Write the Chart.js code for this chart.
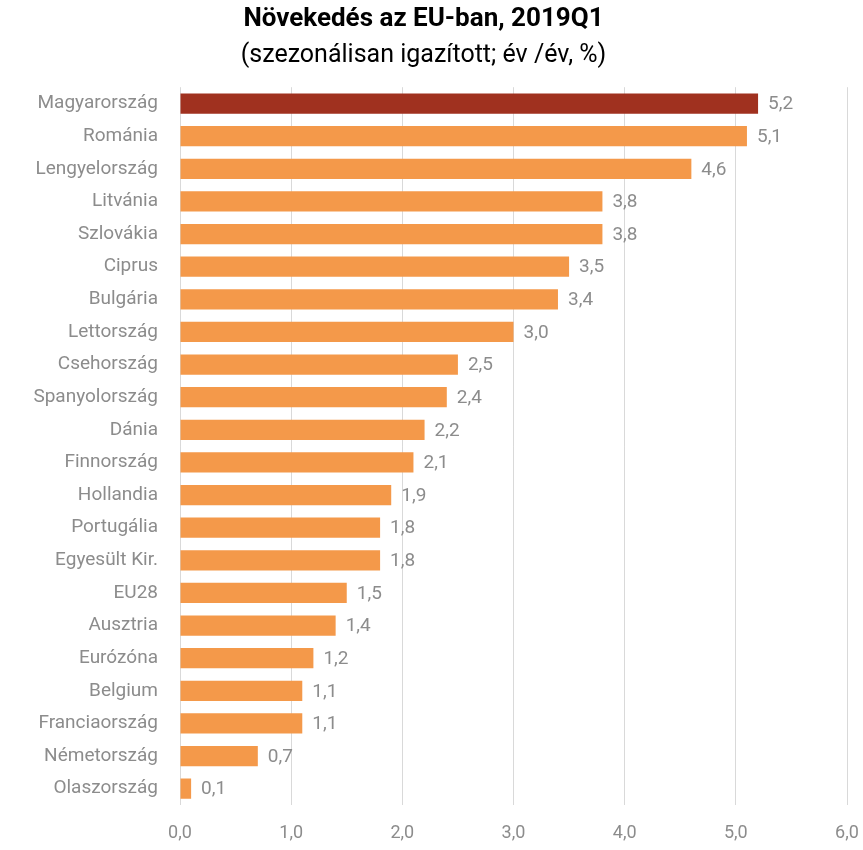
<!DOCTYPE html>
<html>
<head>
<meta charset="utf-8">
<script src="https://cdn.jsdelivr.net/npm/chart.js@4/dist/chart.umd.min.js"></script>
<style>
  html, body { margin: 0; padding: 0; background: #fff; }
</style>
</head>
<body>
<canvas id="growthChart" width="863" height="850"></canvas>
<script>
const countries = [
  "Magyarország", "Románia", "Lengyelország", "Litvánia", "Szlovákia", "Ciprus",
  "Bulgária", "Lettország", "Csehország", "Spanyolország", "Dánia", "Finnország",
  "Hollandia", "Portugália", "Egyesült Kir.", "EU28", "Ausztria", "Eurózóna",
  "Belgium", "Franciaország", "Németország", "Olaszország"
];
const growth = [5.2, 5.1, 4.6, 3.8, 3.8, 3.5, 3.4, 3.0, 2.5, 2.4, 2.2, 2.1, 1.9, 1.8, 1.8, 1.5, 1.4, 1.2, 1.1, 1.1, 0.7, 0.1];
const highlight = "Magyarország";

const fontFamily = "'Roboto', sans-serif";
const fmt = v => v.toFixed(1).replace(".", ",");

const barColors = countries.map(c => c === highlight ? "#A0311F" : "#F4994A");

// value labels to the right of each bar
const valueLabels = {
  id: "valueLabels",
  afterDatasetsDraw(chart) {
    const ctx = chart.ctx;
    const meta = chart.getDatasetMeta(0);
    ctx.save();
    ctx.font = "19px " + fontFamily;
    ctx.fillStyle = "#8c8c8c";
    ctx.textAlign = "left";
    ctx.textBaseline = "middle";
    meta.data.forEach((bar, i) => {
      ctx.fillText(fmt(growth[i]), bar.x + 10, bar.y + 1);
    });
    ctx.restore();
  }
};

const ctx = document.getElementById("growthChart").getContext("2d");
let growthChart = new Chart(ctx, {
  type: "bar",
  data: {
    labels: countries,
    datasets: [
      {
        data: growth,
        backgroundColor: barColors,
        barPercentage: 0.62,
        categoryPercentage: 1.0,
      },
    ],
  },
  options: {
    indexAxis: "y",
    responsive: false,
    animation: false,
    layout: { padding: { left: 0, right: 16, top: 4, bottom: 0 } },
    plugins: {
      legend: { display: false },
      tooltip: { enabled: false },
      title: {
        display: true,
        text: "Növekedés az EU-ban, 2019Q1",
        color: "#000",
        font: { family: fontFamily, size: 26, weight: "bold" },
        padding: { top: 0, bottom: 6 },
      },
      subtitle: {
        display: true,
        text: "(szezonálisan igazított; év /év, %)",
        color: "#000",
        font: { family: fontFamily, size: 25 },
        padding: { top: 0, bottom: 16 },
      },
    },
    scales: {
      x: {
        min: 0,
        max: 6,
        ticks: {
          stepSize: 1,
          color: "#8c8c8c",
          font: { family: fontFamily, size: 18 },
          padding: 18,
          callback: v => fmt(v),
        },
        grid: { color: "#d9d9d9", drawTicks: false },
        border: { display: false },
        afterFit: s => { s.height = 45; s.paddingRight = 0; s.paddingLeft = 0; },
      },
      y: {
        ticks: {
          color: "#8c8c8c",
          font: { family: fontFamily, size: 19 },
          padding: 14,
          autoSkip: false,
        },
        grid: { display: false },
        border: { display: false },
        afterFit: s => { s.width = 180; },
      },
    },
  },
  plugins: [valueLabels],
});
</script>
</body>
</html>
